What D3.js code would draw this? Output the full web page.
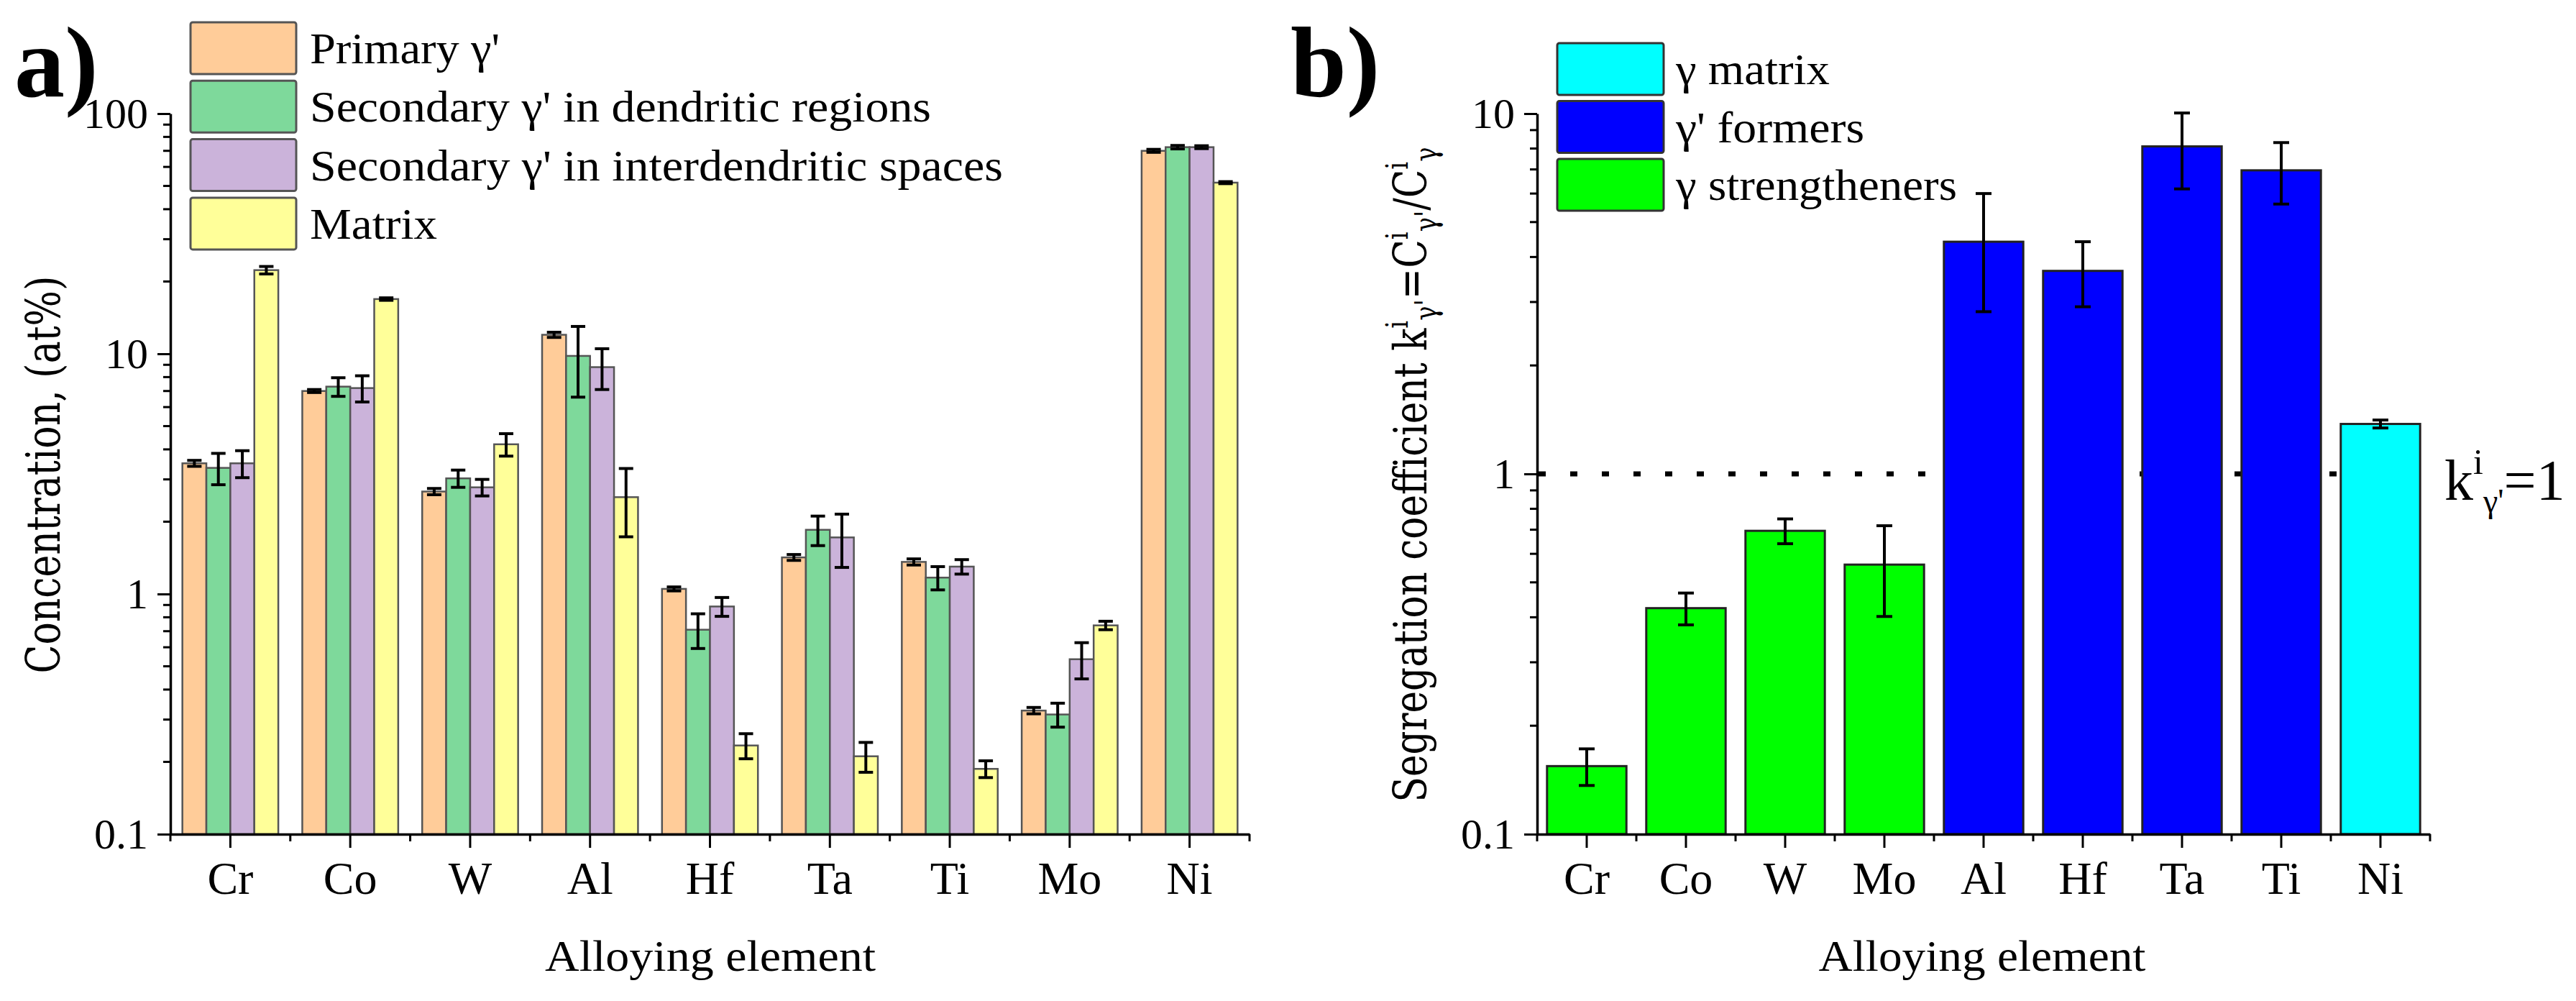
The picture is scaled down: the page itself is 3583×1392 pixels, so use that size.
<!DOCTYPE html>
<html><head><meta charset="utf-8">
<script src="https://cdn.jsdelivr.net/npm/d3@7"></script>
<style>body{margin:0;background:#fff}svg{display:block}</style>
</head><body>
<svg id="c" width="3583" height="1392"></svg>
<script>
// ---------- Panel a data ----------
const categoriesA = ["Cr","Co","W","Al","Hf","Ta","Ti","Mo","Ni"];
const seriesNamesA = ["Primary γ'", "Secondary γ' in dendritic regions", "Secondary γ' in interdendritic spaces", "Matrix"];
const seriesColorsA = ["#FFCC99", "#7ED99B", "#CBB3DA", "#FFFF99"];
const primary      = [3.5, 7.0, 2.67, 12.0, 1.05, 1.42, 1.36, 0.327, 70.0];
const primaryErr   = [0.1, 0.1, 0.08, 0.3, 0.02, 0.04, 0.04, 0.01, 1.0];
const secDend      = [3.35, 7.3, 3.03, 9.8, 0.71, 1.85, 1.17, 0.315, 72.5];
const secDendErr   = [0.5, 0.65, 0.25, 3.2, 0.117, 0.26, 0.13, 0.036, 1.2];
const secInter     = [3.5, 7.2, 2.78, 8.8, 0.887, 1.72, 1.30, 0.535, 72.5];
const secInterErr  = [0.45, 0.9, 0.22, 1.7, 0.08, 0.43, 0.09, 0.092, 1.0];
const matrix       = [22.3, 16.9, 4.2, 2.53, 0.234, 0.211, 0.187, 0.74, 51.6];
const matrixErr    = [0.8, 0.2, 0.45, 0.8, 0.028, 0.03, 0.015, 0.03, 0.5];
const yTicksA = [0.1, 1, 10, 100];

// ---------- Panel b data ----------
const categoriesB = ["Cr","Co","W","Mo","Al","Hf","Ta","Ti","Ni"];
const kValues = [0.1545, 0.424, 0.695, 0.560, 4.41, 3.66, 8.11, 6.96, 1.376];
const kErr    = [0.018, 0.043, 0.055, 0.158, 1.59, 0.75, 1.93, 1.35, 0.035];
const kGroup  = ["str","str","str","str","form","form","form","form","mat"];
const groupNamesB = ["γ matrix", "γ' formers", "γ strengtheners"];
const groupKeysB  = ["mat", "form", "str"];
const groupColorsB = {mat:"#00FFFF", form:"#0000FF", str:"#00FF00"};
const yTicksB = [0.1, 1, 10];
const refLine = 1;

// measured text extents in the reference (px)
const legendLenA = [264, 864, 964, 177];
const legendLenB = [214, 262, 391];

const svg = d3.select("#c");
const serif = "'Liberation Serif','Times New Roman',serif";
const titleFont = "'DejaVu Serif',serif";
const fmt = d3.format("~g");

function minorTicks(domain){
  const out=[];
  for(let d=domain[0]; d<domain[1]*0.999; d*=10){
    for(let m=2;m<=9;m++) out.push(d*m);
  }
  return out;
}

function fitTitle(g, x, cy, target){
  const node = g.node();
  const w = node.getComputedTextLength();
  g.attr("transform", `translate(${x},${cy}) rotate(-90) scale(${target/w},1)`);
}

function drawAxes(x, y, ticks, yLabelSize){
  const yAx = svg.append("g").attr("transform",`translate(${x.range()[0]},0)`)
    .call(d3.axisLeft(y).tickValues(ticks).tickFormat(fmt).tickSize(18).tickPadding(13).tickSizeOuter(0));
  yAx.selectAll("text").attr("font-family",serif).attr("font-size",yLabelSize).attr("fill","#000");
  yAx.selectAll("line").attr("stroke","#000").attr("stroke-width",3);
  yAx.select(".domain").attr("stroke","#000").attr("stroke-width",3.5);
  yAx.selectAll(".minor").data(minorTicks(y.domain())).enter().append("line")
    .attr("x1",-10).attr("x2",0).attr("y1",d=>y(d)).attr("y2",d=>y(d))
    .attr("stroke","#000").attr("stroke-width",3);

  const y0 = y.range()[0];
  const xAx = svg.append("g").attr("transform",`translate(0,${y0})`)
    .call(d3.axisBottom(x).tickSize(19).tickPadding(19).tickSizeOuter(0));
  xAx.selectAll("text").attr("font-family",serif).attr("font-size",64).attr("fill","#000");
  xAx.selectAll("line").attr("stroke","#000").attr("stroke-width",3);
  xAx.select(".domain").attr("stroke","#000").attr("stroke-width",3.5);
  const bounds = d3.range(x.domain().length+1).map(i => x.range()[0] + i*x.step());
  xAx.selectAll(".minor").data(bounds).enter().append("line")
    .attr("x1",d=>d).attr("x2",d=>d).attr("y1",0).attr("y2",10)
    .attr("stroke","#000").attr("stroke-width",3);
}

function errBars(g, data, cxFn, y, capHalf, sw){
  const eb = g.selectAll(null).data(data).enter().append("g");
  eb.append("line").attr("x1",cxFn).attr("x2",cxFn)
    .attr("y1",d=>y(d.v+d.e)).attr("y2",d=>y(Math.max(d.v-d.e,1e-6)))
    .attr("stroke","#000").attr("stroke-width",sw);
  eb.append("line").attr("x1",d=>cxFn(d)-capHalf).attr("x2",d=>cxFn(d)+capHalf)
    .attr("y1",d=>y(d.v+d.e)).attr("y2",d=>y(d.v+d.e))
    .attr("stroke","#000").attr("stroke-width",sw);
  eb.append("line").attr("x1",d=>cxFn(d)-capHalf).attr("x2",d=>cxFn(d)+capHalf)
    .attr("y1",d=>y(d.v-d.e)).attr("y2",d=>y(d.v-d.e))
    .attr("stroke","#000").attr("stroke-width",sw);
}

// ================= Panel a =================
const xA = d3.scaleBand().domain(categoriesA).range([237,1738]).paddingInner(0.2).paddingOuter(0.1);
const yA = d3.scaleLog().domain([0.1,100]).range([1160,158]);
const valuesA = [primary, secDend, secInter, matrix];
const errorsA = [primaryErr, secDendErr, secInterErr, matrixErr];
const xSubA = d3.scaleBand().domain(d3.range(4)).range([0, xA.bandwidth()]);

const barsA = svg.append("g");
const flatA = [];
categoriesA.forEach((c,i)=>{
  valuesA.forEach((vals,s)=>{
    flatA.push({c, s, v: vals[i], e: errorsA[s][i]});
  });
});
barsA.selectAll("rect").data(flatA).enter().append("rect")
  .attr("x",d=>xA(d.c)+xSubA(d.s))
  .attr("width",xSubA.bandwidth())
  .attr("y",d=>yA(d.v))
  .attr("height",d=>yA(0.1)-yA(d.v))
  .attr("fill",d=>seriesColorsA[d.s])
  .attr("stroke","#555").attr("stroke-width",2.5);
errBars(barsA, flatA, d=>xA(d.c)+xSubA(d.s)+xSubA.bandwidth()/2, yA, 10, 4);

drawAxes(xA, yA, yTicksA, 60);

// legend a
const legA = svg.append("g");
seriesNamesA.forEach((n,i)=>{
  const y0 = 31 + i*81.3;
  legA.append("rect").attr("x",265).attr("y",y0).attr("width",147).attr("height",72).attr("rx",3)
    .attr("fill",seriesColorsA[i]).attr("stroke","#555").attr("stroke-width",3);
  legA.append("text").attr("x",431).attr("y",y0+36+21).text(n)
    .attr("font-family",serif).attr("font-size",62).attr("fill","#000")
    .attr("textLength",legendLenA[i]).attr("lengthAdjust","spacingAndGlyphs");
});

// titles a
svg.append("text").attr("x",20).attr("y",134).text("a)")
  .attr("font-family",serif).attr("font-weight","bold").attr("font-size",140).attr("fill","#000");
const tA = svg.append("text").attr("text-anchor","middle")
  .attr("font-family",titleFont).attr("font-size",66).attr("fill","#000")
  .text("Concentration, (at%)");
fitTitle(tA, 83, 660, 553);
svg.append("text").attr("x",988).attr("y",1350).attr("text-anchor","middle")
  .text("Alloying element").attr("font-family",serif).attr("font-size",62).attr("fill","#000")
  .attr("textLength",460).attr("lengthAdjust","spacingAndGlyphs");

// ================= Panel b =================
const xB = d3.scaleBand().domain(categoriesB).range([2138,3380]).paddingInner(0.2).paddingOuter(0.1);
const yB = d3.scaleLog().domain([0.1,10]).range([1160,158]);

// reference dotted line k=1 (behind bars)
svg.append("line").attr("x1",xB.range()[0]+2).attr("x2",xB("Ni")+xB.bandwidth()/2)
  .attr("y1",yB(refLine)).attr("y2",yB(refLine))
  .attr("stroke","#000").attr("stroke-width",7).attr("stroke-dasharray","10,34");

const flatB = categoriesB.map((c,i)=>({c, v:kValues[i], e:kErr[i], g:kGroup[i]}));
const barsB = svg.append("g");
barsB.selectAll("rect").data(flatB).enter().append("rect")
  .attr("x",d=>xB(d.c)).attr("width",xB.bandwidth())
  .attr("y",d=>yB(d.v)).attr("height",d=>yB(0.1)-yB(d.v))
  .attr("fill",d=>groupColorsB[d.g]).attr("stroke","#222").attr("stroke-width",3);
errBars(barsB, flatB, d=>xB(d.c)+xB.bandwidth()/2, yB, 11, 4);

drawAxes(xB, yB, yTicksB, 60);

// legend b
const legB = svg.append("g");
groupNamesB.forEach((n,i)=>{
  const y0 = 60 + i*80.5;
  legB.append("rect").attr("x",2166).attr("y",y0).attr("width",148).attr("height",72).attr("rx",3)
    .attr("fill",groupColorsB[groupKeysB[i]]).attr("stroke","#333").attr("stroke-width",3);
  legB.append("text").attr("x",2331).attr("y",y0+36+21).text(n)
    .attr("font-family",serif).attr("font-size",62).attr("fill","#000")
    .attr("textLength",legendLenB[i]).attr("lengthAdjust","spacingAndGlyphs");
});

// k label
const kl = svg.append("text").attr("x",3400).attr("y",695)
  .attr("font-family",serif).attr("font-size",80).attr("fill","#000");
kl.append("tspan").text("k");
kl.append("tspan").attr("dy",-36).attr("font-size",50).text("i");
kl.append("tspan").attr("dy",53).attr("font-size",46).text("γ'");
kl.append("tspan").attr("dy",-17).text("=1");

// titles b
svg.append("text").attr("x",1795).attr("y",134).text("b)")
  .attr("font-family",serif).attr("font-weight","bold").attr("font-size",140).attr("fill","#000");
const tB = svg.append("text").attr("text-anchor","middle")
  .attr("font-family",titleFont).attr("font-size",64).attr("fill","#000");
tB.append("tspan").text("Segregation coefficient k");
tB.append("tspan").attr("dy",-26).attr("font-size",42).text("i");
tB.append("tspan").attr("dy",40).attr("font-size",42).text("γ'");
tB.append("tspan").attr("dy",-14).text("=C");
tB.append("tspan").attr("dy",-26).attr("font-size",42).text("i");
tB.append("tspan").attr("dy",40).attr("font-size",42).text("γ'");
tB.append("tspan").attr("dy",-14).text("/C");
tB.append("tspan").attr("dy",-26).attr("font-size",42).text("i");
tB.append("tspan").attr("dy",40).attr("font-size",42).text("γ");
fitTitle(tB, 1984, 660, 911);
svg.append("text").attr("x",2757).attr("y",1350).attr("text-anchor","middle")
  .text("Alloying element").attr("font-family",serif).attr("font-size",62).attr("fill","#000")
  .attr("textLength",455).attr("lengthAdjust","spacingAndGlyphs");
</script>
</body></html>
